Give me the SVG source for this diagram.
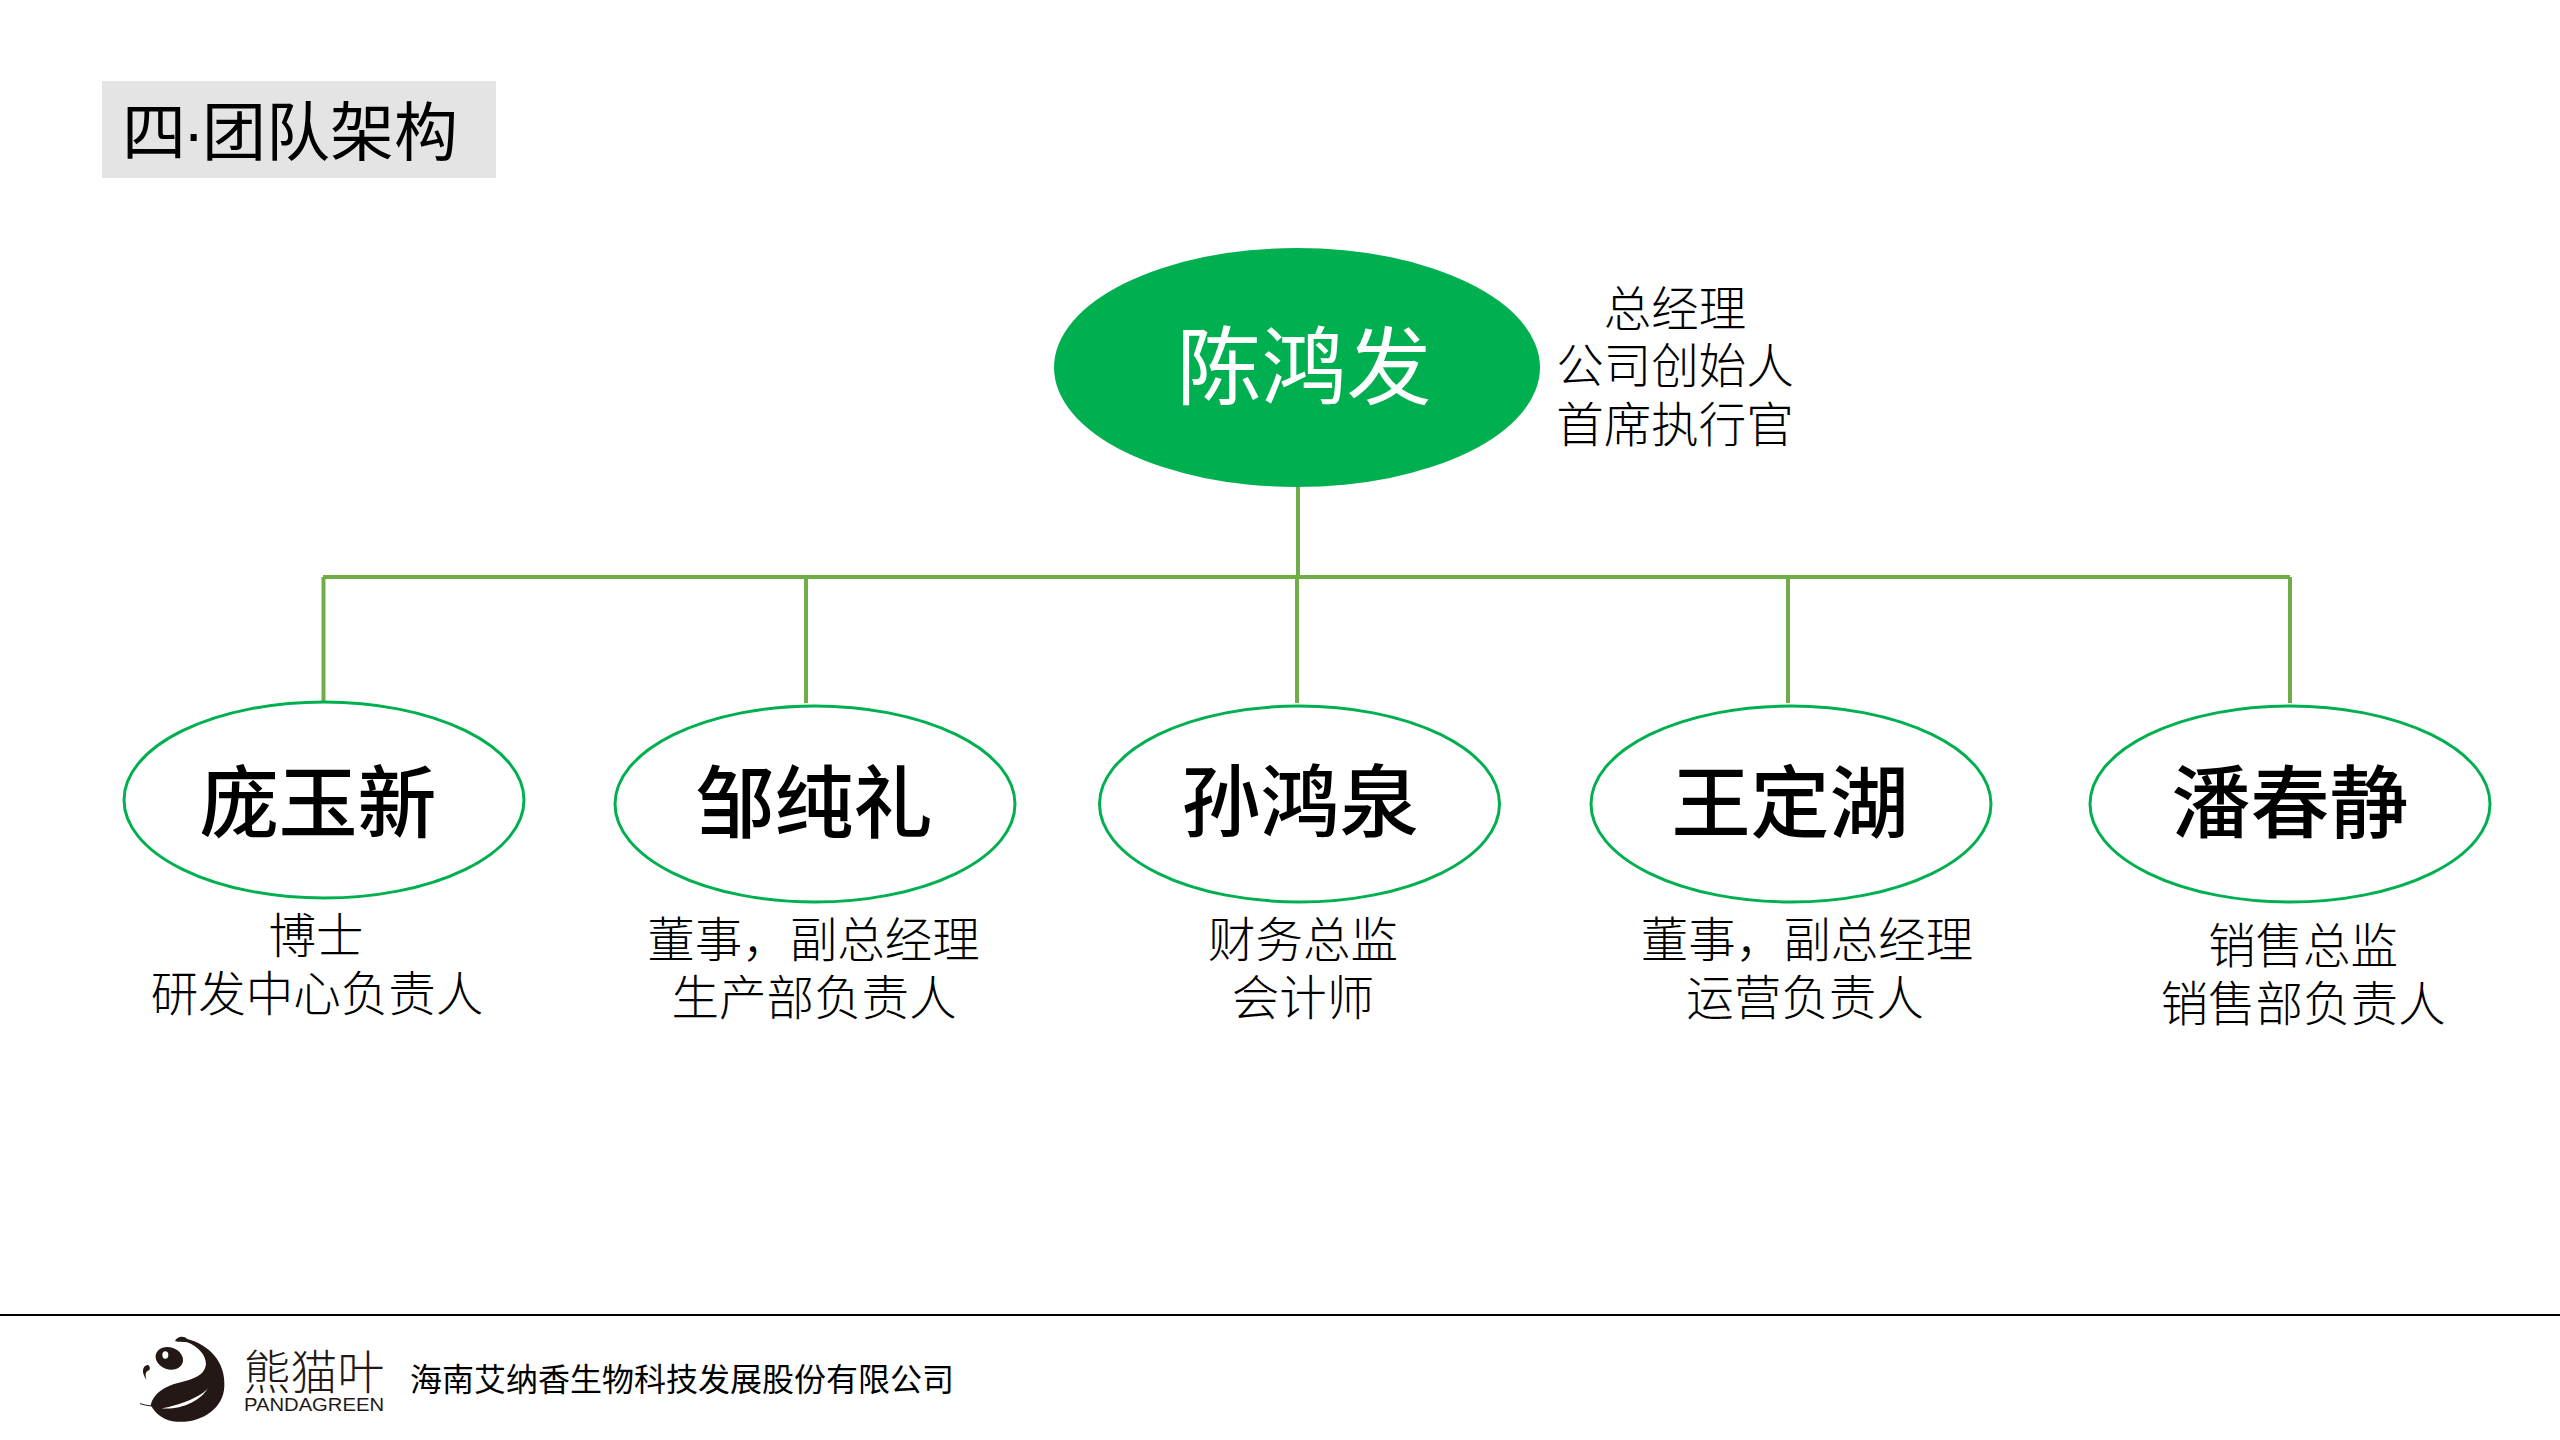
<svg xmlns="http://www.w3.org/2000/svg" width="2560" height="1440" viewBox="0 0 2560 1440">
<style>
text{font-family:"Noto Sans CJK SC","Noto Sans",sans-serif;text-anchor:middle;fill:#000}
.name{font-size:79px;font-weight:500}
.sub{font-size:47.500px;font-weight:300}
.leaf{fill:#fff;stroke:#00B050;stroke-width:3}
.conn{fill:none;stroke:#70AD47;stroke-width:4}
.ink{fill:#231815}
</style>
<rect width="2560" height="1440" fill="#fff"/>
<g id="title">
<rect x="102" y="81" width="394" height="97" fill="#E4E4E4"/>
<text y="155" style="font-size:64px;text-anchor:start"><tspan x="122">四</tspan><tspan x="183" style="font-family:'Liberation Sans',sans-serif">·</tspan><tspan x="202">团队架构</tspan></text>
</g>
<g id="connectors">
<path class="conn" d="M1298 487V577M323 577H2290M323.500 577V702M806 577V703M1297 577V703M1788 577V703M2290 577V703"/>
</g>
<g id="node-chen">
<ellipse cx="1297" cy="367.500" rx="243" ry="119.500" fill="#00B050"/>
<text x="1304" y="398" style="font-size:85px;fill:#fff">陈鸿发</text>
<text class="sub" x="1675" y="326">总经理</text>
<text class="sub" x="1675" y="383">公司创始人</text>
<text class="sub" x="1675" y="442">首席执行官</text>
</g>
<g id="node-pang">
<ellipse class="leaf" cx="324" cy="800" rx="200" ry="98"/>
<text class="name" x="318" y="832">庞玉新</text>
<text class="sub" x="316" y="953">博士</text>
<text class="sub" x="317" y="1011">研发中心负责人</text>
</g>
<g id="node-zou">
<ellipse class="leaf" cx="815" cy="804" rx="200" ry="98"/>
<text class="name" x="814" y="832">邹纯礼</text>
<text class="sub" x="813.500" y="957">董事，副总经理</text>
<text class="sub" x="814" y="1015">生产部负责人</text>
</g>
<g id="node-sun">
<ellipse class="leaf" cx="1299.500" cy="804" rx="200" ry="98"/>
<text class="name" x="1300" y="831">孙鸿泉</text>
<text class="sub" x="1303" y="957">财务总监</text>
<text class="sub" x="1303" y="1015">会计师</text>
</g>
<g id="node-wang">
<ellipse class="leaf" cx="1791" cy="804" rx="200" ry="98"/>
<text class="name" x="1790" y="832">王定湖</text>
<text class="sub" x="1807" y="957">董事，副总经理</text>
<text class="sub" x="1805" y="1015">运营负责人</text>
</g>
<g id="node-pan">
<ellipse class="leaf" cx="2290" cy="804" rx="200" ry="98"/>
<text class="name" x="2290" y="832">潘春静</text>
<text class="sub" x="2303" y="963">销售总监</text>
<text class="sub" x="2303" y="1021">销售部负责人</text>
</g>
<g id="footer">
<rect x="0" y="1314" width="2560" height="2" fill="#000"/>
<g transform="translate(130 1325) scale(.3333)">
<path class="ink" d="M135 48C140 35 160 30 172 42C235 58 288 110 283 185C280 250 215 295 140 290C105 288 78 270 62 240C70 210 95 190 130 178C175 165 222 160 228 118C228 90 205 65 172 52C160 50 145 52 135 48Z"/>
<path d="M95 250C150 255 210 230 235 188C215 215 150 240 95 250Z" fill="#fff"/>
<path d="M30 236C50 243 80 245 100 245" fill="none" stroke="#231815" stroke-width="3"/>
<ellipse class="ink" cx="118" cy="100" rx="42" ry="33" transform="rotate(20 118 100)"/>
<ellipse cx="106" cy="90" rx="9" ry="11" fill="#fff"/>
<path class="ink" d="M52 120C35 125 35 145 50 165C45 150 45 140 58 135C62 128 58 120 52 120Z"/>
</g>
<text x="314" y="1389" style="font-size:47px;font-weight:300;fill:#231815">熊猫叶</text>
<text x="314" y="1411" textLength="140" lengthAdjust="spacingAndGlyphs" style="font-size:18px;font-weight:300;fill:#231815;font-family:'Liberation Sans',sans-serif">PANDAGREEN</text>
<text x="682" y="1391" style="font-size:32px">海南艾纳香生物科技发展股份有限公司</text>
</g>
</svg>
